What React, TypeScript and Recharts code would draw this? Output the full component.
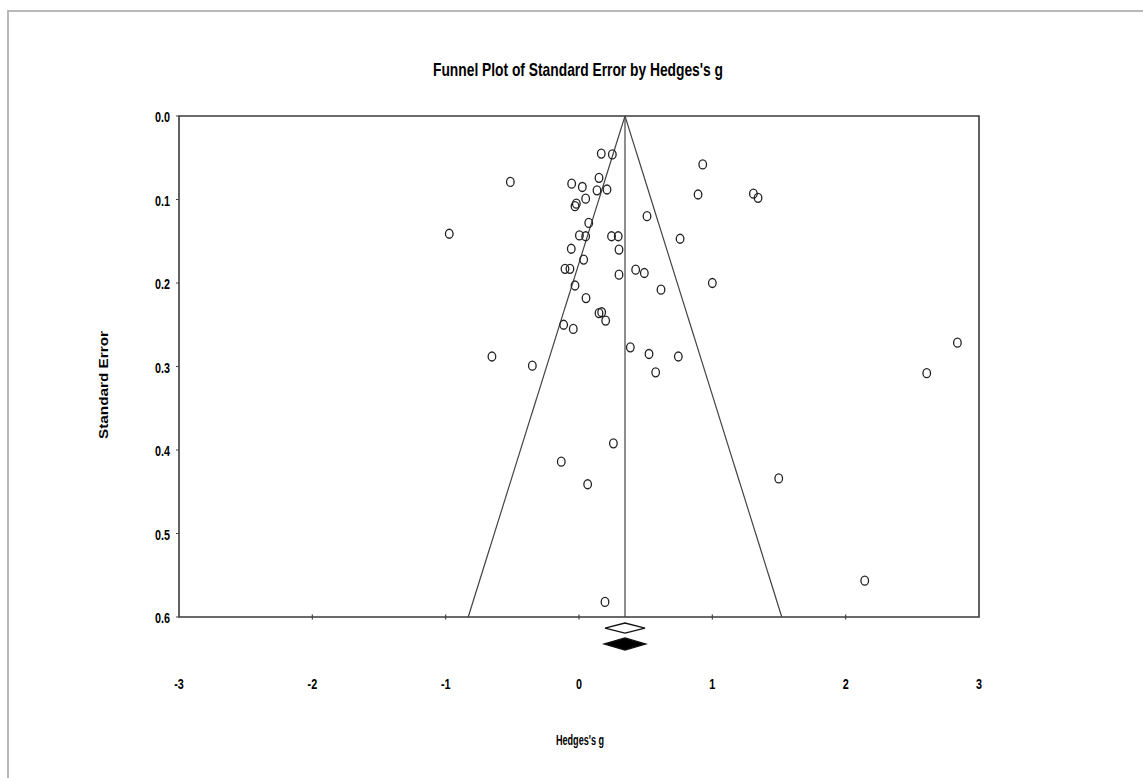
import { ScatterChart, Scatter, XAxis, YAxis, ReferenceArea, ReferenceLine } from "recharts"

// study effect sizes (Hedges's g) and their standard errors
const HEDGES_G = [
  0.167, 0.25, 0.928, -0.055, 0.025, 0.15, 0.135, 0.21, 0.893, 0.05, -0.02, -0.03, 0.51, 0.073,
  0.758, 0.003, 0.05, 0.244, 0.294, -0.058, 0.3, 0.035, -0.105, -0.068, 0.425, 0.49, 0.3, 1.0,
  -0.03, 0.615, 0.0525, 0.15, 0.17, 0.2, -0.115, -0.043, 0.385, 0.525, 0.745, -0.35, 0.575,
  -0.515, -0.973, -0.653, 1.308, 1.343, 0.258, -0.133, 0.065, 1.498, 0.195, 2.838, 2.608, 2.143,
]
const STD_ERR = [
  0.045, 0.046, 0.058, 0.081, 0.085, 0.074, 0.089, 0.088, 0.094, 0.099, 0.105, 0.108, 0.12, 0.128,
  0.147, 0.143, 0.144, 0.144, 0.144, 0.159, 0.16, 0.172, 0.183, 0.183, 0.184, 0.188, 0.19, 0.2,
  0.203, 0.208, 0.218, 0.236, 0.235, 0.245, 0.25, 0.255, 0.277, 0.285, 0.288, 0.299, 0.307,
  0.079, 0.141, 0.288, 0.093, 0.098, 0.392, 0.414, 0.441, 0.434, 0.582, 0.2715, 0.308, 0.5565,
]

const X_TICKS = [-3, -2, -1, 0, 1, 2, 3]
const INNER_X_TICKS = [-2, -1, 0, 1, 2]
const Y_TICKS = [0, 0.1, 0.2, 0.3, 0.4, 0.5, 0.6]

const MEAN_G = 0.345
const SE_MAX = 0.6
const OBSERVED_CI = [0.195, 0.495]
const ADJUSTED_CI = [0.19, 0.5]
// vertical placement of the two summary diamonds under the axis (in SE units)
const OBSERVED_ROW = [0.6132, 0.006]
const ADJUSTED_ROW = [0.6323, 0.0072]

const FONT = "'Liberation Sans', Arial, sans-serif"

const studies = HEDGES_G.map((g, i) => ({ g, se: STD_ERR[i] }))
const tickMarks = INNER_X_TICKS.map((g) => ({ g, se: SE_MAX }))

function diamond(ci: number[], row: number[]) {
  return [
    { g: ci[0], se: row[0] },
    { g: MEAN_G, se: row[0] - row[1] },
    { g: ci[1], se: row[0] },
    { g: MEAN_G, se: row[0] + row[1] },
  ]
}

const diamondLine = (fill: string) => (p: any) => {
  const pts = p.points ?? []
  const d = pts.map((pt: any, i: number) => `${i ? "L" : "M"}${pt.x},${pt.y}`).join("") + "Z"
  return <path d={d} fill={fill} stroke="#111" strokeWidth={1.3} />
}

// condensed bold labels (no narrow face installed, so squeeze horizontally)
const renderXTick = (p: any) => (
  <g transform={`translate(${p.x},${p.y + 14}) scale(0.72,1)`}>
    <text x={0} y={0} textAnchor="middle" fontFamily={FONT} fontWeight="bold" fontSize={15} fill="#000">
      {p.payload.value}
    </text>
  </g>
)

const renderYTick = (p: any) => (
  <g transform={`translate(${p.x},${p.y + 6}) scale(0.72,1)`}>
    <text x={0} y={0} textAnchor="end" fontFamily={FONT} fontWeight="bold" fontSize={15} fill="#000">
      {Number(p.payload.value).toFixed(1)}
    </text>
  </g>
)

export default function App() {
  return (
    <div style={{ position: "absolute", left: 0, top: 0, width: 1143, height: 778, background: "#fff" }}>
      <div
        style={{
          position: "absolute",
          left: 7,
          top: 10,
          right: 0,
          bottom: 0,
          borderTop: "2px solid #b8b8b8",
          borderLeft: "2px solid #b8b8b8",
        }}
      />
      <ScatterChart
        width={1143}
        height={778}
        margin={{ top: 116, right: 164, bottom: 80.9, left: 119 }}
        style={{ position: "absolute", left: 0, top: 0 }}
      >
        <XAxis
          type="number"
          dataKey="g"
          domain={[-3, 3]}
          ticks={X_TICKS}
          interval={0}
          allowDataOverflow
          axisLine={false}
          tickLine={false}
          height={30}
          tick={renderXTick}
        />
        <YAxis
          type="number"
          dataKey="se"
          domain={[0, 0.66]}
          reversed
          allowDataOverflow
          ticks={Y_TICKS}
          interval={0}
          axisLine={false}
          tickSize={3}
          tickMargin={6}
          tickLine={{ stroke: "#444" }}
          width={60}
          tick={renderYTick}
        />
        <ReferenceArea x1={-3} x2={3} y1={0} y2={SE_MAX} fill="none" stroke="#3a3a3a" strokeWidth={1.6} fillOpacity={0} />
        <ReferenceLine
          segment={[{ x: MEAN_G, y: 0 }, { x: MEAN_G, y: SE_MAX }]}
          stroke="#444"
          strokeWidth={1.2}
        />
        <ReferenceLine
          segment={[{ x: MEAN_G, y: 0 }, { x: MEAN_G - 1.96 * SE_MAX, y: SE_MAX }]}
          stroke="#444"
          strokeWidth={1.2}
        />
        <ReferenceLine
          segment={[{ x: MEAN_G, y: 0 }, { x: MEAN_G + 1.96 * SE_MAX, y: SE_MAX }]}
          stroke="#444"
          strokeWidth={1.2}
        />
        <Scatter
          data={tickMarks}
          isAnimationActive={false}
          shape={(p: any) => <line x1={p.cx} x2={p.cx} y1={p.cy - 2.5} y2={p.cy + 2.5} stroke="#444" strokeWidth={1.2} />}
        />
        <Scatter
          data={studies}
          isAnimationActive={false}
          shape={(p: any) => (
            <ellipse cx={p.cx} cy={p.cy} rx={3.8} ry={4.5} fill="none" stroke="#222" strokeWidth={1.3} />
          )}
        />
        <Scatter
          data={diamond(OBSERVED_CI, OBSERVED_ROW)}
          isAnimationActive={false}
          lineType="joint"
          line={diamondLine("#fff")}
          shape={() => <g />}
        />
        <Scatter
          data={diamond(ADJUSTED_CI, ADJUSTED_ROW)}
          isAnimationActive={false}
          lineType="joint"
          line={diamondLine("#000")}
          shape={() => <g />}
        />
      </ScatterChart>
      <svg width={1143} height={778} style={{ position: "absolute", left: 0, top: 0, pointerEvents: "none" }}>
        <text
          x={578}
          y={76}
          textAnchor="middle"
          fontFamily={FONT}
          fontWeight="bold"
          fontSize={19}
          textLength={290}
          lengthAdjust="spacingAndGlyphs"
        >
          Funnel Plot of Standard Error by Hedges's g
        </text>
        <text
          x={108}
          y={385}
          transform="rotate(-90 108 385)"
          textAnchor="middle"
          fontFamily={FONT}
          fontWeight="bold"
          fontSize={13}
          textLength={108}
          lengthAdjust="spacingAndGlyphs"
        >
          Standard Error
        </text>
        <text
          x={580}
          y={745}
          textAnchor="middle"
          fontFamily={FONT}
          fontWeight="bold"
          fontSize={14}
          textLength={48}
          lengthAdjust="spacingAndGlyphs"
        >
          Hedges's g
        </text>
      </svg>
    </div>
  )
}
